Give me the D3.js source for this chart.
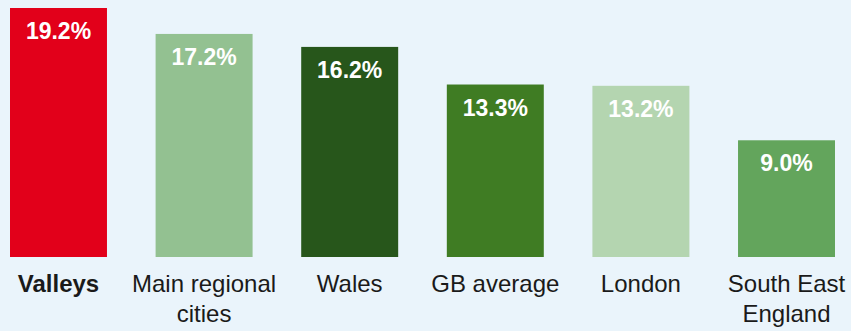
<!DOCTYPE html>
<html>
<head>
<meta charset="utf-8">
<script src="https://cdn.jsdelivr.net/npm/d3@7"></script>
<style>
  html, body { margin: 0; padding: 0; background: #eaf4fb; }
  svg { display: block; }
</style>
</head>
<body>
<script>
const categories = ["Valleys", "Main regional|cities", "Wales", "GB average", "London", "South East|England"];
const values = [19.2, 17.2, 16.2, 13.3, 13.2, 9.0];
const colours = ["#e2001a", "#93c191", "#27561b", "#3f7c23", "#b4d5b0", "#63a55c"];

const w = 851;
const h = 331;
const base = 257;

const data = categories.map((c, i) => ({ name: c, value: values[i], colour: colours[i] }));

const xScale = d3.scaleBand()
    .domain(categories)
    .range([10, 835])
    .paddingInner(0.334)
    .paddingOuter(0);

const yScale = d3.scaleLinear()
    .domain([0, 19.2])
    .range([base, 8]);

const svg = d3.select("body")
    .append("svg")
    .attr("width", w)
    .attr("height", h);

svg.append("rect")
    .attr("width", w)
    .attr("height", h)
    .attr("fill", "#eaf4fb");

svg.selectAll(".bar")
    .data(data)
    .enter()
    .append("rect")
    .attr("class", "bar")
    .attr("x", (d) => xScale(d.name))
    .attr("y", (d) => yScale(d.value))
    .attr("width", xScale.bandwidth())
    .attr("height", (d) => base - yScale(d.value))
    .attr("fill", (d) => d.colour);

svg.selectAll(".val")
    .data(data)
    .enter()
    .append("text")
    .attr("class", "val")
    .attr("x", (d) => xScale(d.name) + xScale.bandwidth() / 2)
    .attr("y", (d) => yScale(d.value) + 31)
    .attr("text-anchor", "middle")
    .attr("font-family", "Liberation Sans, Arial, sans-serif")
    .attr("font-weight", "bold")
    .attr("font-size", 23)
    .attr("fill", "#ffffff")
    .text((d) => d.value.toFixed(1) + "%");

const labels = svg.selectAll(".cat")
    .data(data)
    .enter()
    .append("text")
    .attr("class", "cat")
    .attr("text-anchor", "middle")
    .attr("font-family", "Liberation Sans, Arial, sans-serif")
    .attr("font-size", 24)
    .attr("font-weight", (d, i) => (i === 0 ? "bold" : "normal"))
    .attr("fill", "#1a1a1a");

labels.each(function (d) {
    const cx = xScale(d.name) + xScale.bandwidth() / 2;
    d.name.split("|").forEach((line, j) => {
        d3.select(this)
            .append("tspan")
            .attr("x", cx)
            .attr("y", 292 + j * 30)
            .text(line);
    });
});
</script>
</body>
</html>
